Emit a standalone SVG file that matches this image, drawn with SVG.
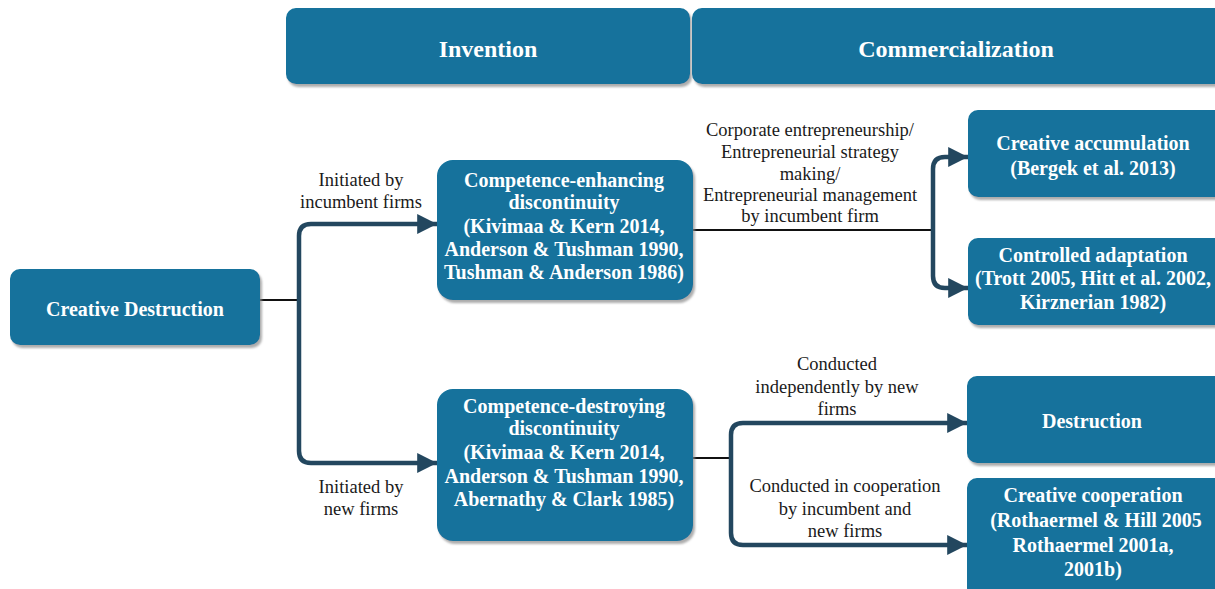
<svg xmlns="http://www.w3.org/2000/svg" width="1215" height="589" viewBox="0 0 1215 589">
  <defs>
    <filter id="shadow" x="-5%" y="-5%" width="112%" height="120%">
      <feDropShadow dx="2" dy="3" stdDeviation="1.2" flood-color="#8a8a8a" flood-opacity="0.7"/>
    </filter>
    <marker id="arrow" viewBox="0 0 10 10" refX="10" refY="5" markerWidth="4.4" markerHeight="4.4" markerUnits="strokeWidth" orient="auto">
      <path d="M0,0 L10,5 L0,10 Z" fill="#23475f"/>
    </marker>
  </defs>
  <style>
    text { font-family: "Liberation Serif", "DejaVu Serif", "Times New Roman", serif; }
    .box { fill: #12729c; filter: url(#shadow); }
    .t { font-weight: bold; fill: #ffffff; text-anchor: middle; font-size: 20px; }
    .hd { font-size: 24px; }
    .lbl { fill: #1a1a1a; text-anchor: middle; font-size: 18.5px; }
    .bus { fill: none; stroke: #23475f; stroke-width: 4.5; stroke-linejoin: round; }
    .feed { fill: none; stroke: #111111; stroke-width: 2; }
  </style>

  <rect width="1215" height="589" fill="#ffffff"/>

  <!-- column headers -->
  <g id="invention">
    <rect class="box" x="286" y="8" width="404" height="76" rx="10"/>
    <text class="t hd" x="488" y="57">Invention</text>
  </g>
  <g id="commercialization">
    <rect class="box" x="692" y="8" width="535" height="76" rx="10"/>
    <text class="t hd" x="956" y="57">Commercialization</text>
  </g>

  <!-- connectors -->
  <g id="connectors">
    <path class="feed" d="M260,300 H298"/>
    <path class="bus" d="M299,300 V236 Q299,224 311,224 H437" marker-end="url(#arrow)"/>
    <path class="bus" d="M299,300 V451 Q299,463 311,463 H437" marker-end="url(#arrow)"/>
    <path class="feed" d="M693,230 H932"/>
    <path class="bus" d="M933,230 V169 Q933,157 945,157 H968" marker-end="url(#arrow)"/>
    <path class="bus" d="M933,230 V276 Q933,288 945,288 H968" marker-end="url(#arrow)"/>
    <path class="feed" d="M693,458 H730"/>
    <path class="bus" d="M731,458 V435 Q731,423 743,423 H967" marker-end="url(#arrow)"/>
    <path class="bus" d="M731,458 V533 Q731,545 743,545 H967" marker-end="url(#arrow)"/>

    <text class="lbl" x="361" y="186">Initiated by</text>
    <text class="lbl" x="361" y="208">incumbent firms</text>
    <text class="lbl" x="361" y="493">Initiated by</text>
    <text class="lbl" x="361" y="515">new firms</text>

    <text class="lbl" x="810" y="136">Corporate entrepreneurship/</text>
    <text class="lbl" x="810" y="158">Entrepreneurial strategy</text>
    <text class="lbl" x="810" y="180">making/</text>
    <text class="lbl" x="810" y="201">Entrepreneurial management</text>
    <text class="lbl" x="810" y="222">by incumbent firm</text>

    <text class="lbl" x="837" y="370">Conducted</text>
    <text class="lbl" x="837" y="393">independently by new</text>
    <text class="lbl" x="837" y="415">firms</text>

    <text class="lbl" x="845" y="492">Conducted in cooperation</text>
    <text class="lbl" x="845" y="515">by incumbent and</text>
    <text class="lbl" x="845" y="537">new firms</text>
  </g>

  <!-- nodes -->
  <g id="creative-destruction">
    <rect class="box" x="10" y="269" width="250" height="76" rx="10"/>
    <text class="t" x="135" y="316" font-size="21">Creative Destruction</text>
  </g>

  <g id="competence-enhancing">
    <rect class="box" x="437" y="160" width="256" height="140" rx="16"/>
    <text class="t" x="564" y="187">Competence-enhancing</text>
    <text class="t" x="564" y="209">discontinuity</text>
    <text class="t" x="564" y="233">(Kivimaa &amp; Kern 2014,</text>
    <text class="t" x="564" y="256">Anderson &amp; Tushman 1990,</text>
    <text class="t" x="564" y="279">Tushman &amp; Anderson 1986)</text>
  </g>

  <g id="competence-destroying">
    <rect class="box" x="437" y="389" width="256" height="152" rx="16"/>
    <text class="t" x="564" y="413">Competence-destroying</text>
    <text class="t" x="564" y="435">discontinuity</text>
    <text class="t" x="564" y="459">(Kivimaa &amp; Kern 2014,</text>
    <text class="t" x="564" y="483">Anderson &amp; Tushman 1990,</text>
    <text class="t" x="564" y="506">Abernathy &amp; Clark 1985)</text>
  </g>

  <g id="creative-accumulation">
    <rect class="box" x="968" y="110" width="260" height="87" rx="10"/>
    <text class="t" x="1093" y="150">Creative accumulation</text>
    <text class="t" x="1093" y="175">(Bergek et al. 2013)</text>
  </g>

  <g id="controlled-adaptation">
    <rect class="box" x="968" y="238" width="260" height="87" rx="10"/>
    <text class="t" x="1093" y="262">Controlled adaptation</text>
    <text class="t" x="1093" y="285">(Trott 2005, Hitt et al. 2002,</text>
    <text class="t" x="1093" y="309">Kirznerian 1982)</text>
  </g>

  <g id="destruction">
    <rect class="box" x="967" y="376" width="260" height="87" rx="10"/>
    <text class="t" x="1092" y="428">Destruction</text>
  </g>

  <g id="creative-cooperation">
    <rect class="box" x="967" y="478" width="260" height="120" rx="10"/>
    <text class="t" x="1093" y="502">Creative cooperation</text>
    <text class="t" x="1096" y="527">(Rothaermel &amp; Hill 2005</text>
    <text class="t" x="1093" y="552">Rothaermel 2001a,</text>
    <text class="t" x="1093" y="576">2001b)</text>
  </g>
</svg>
